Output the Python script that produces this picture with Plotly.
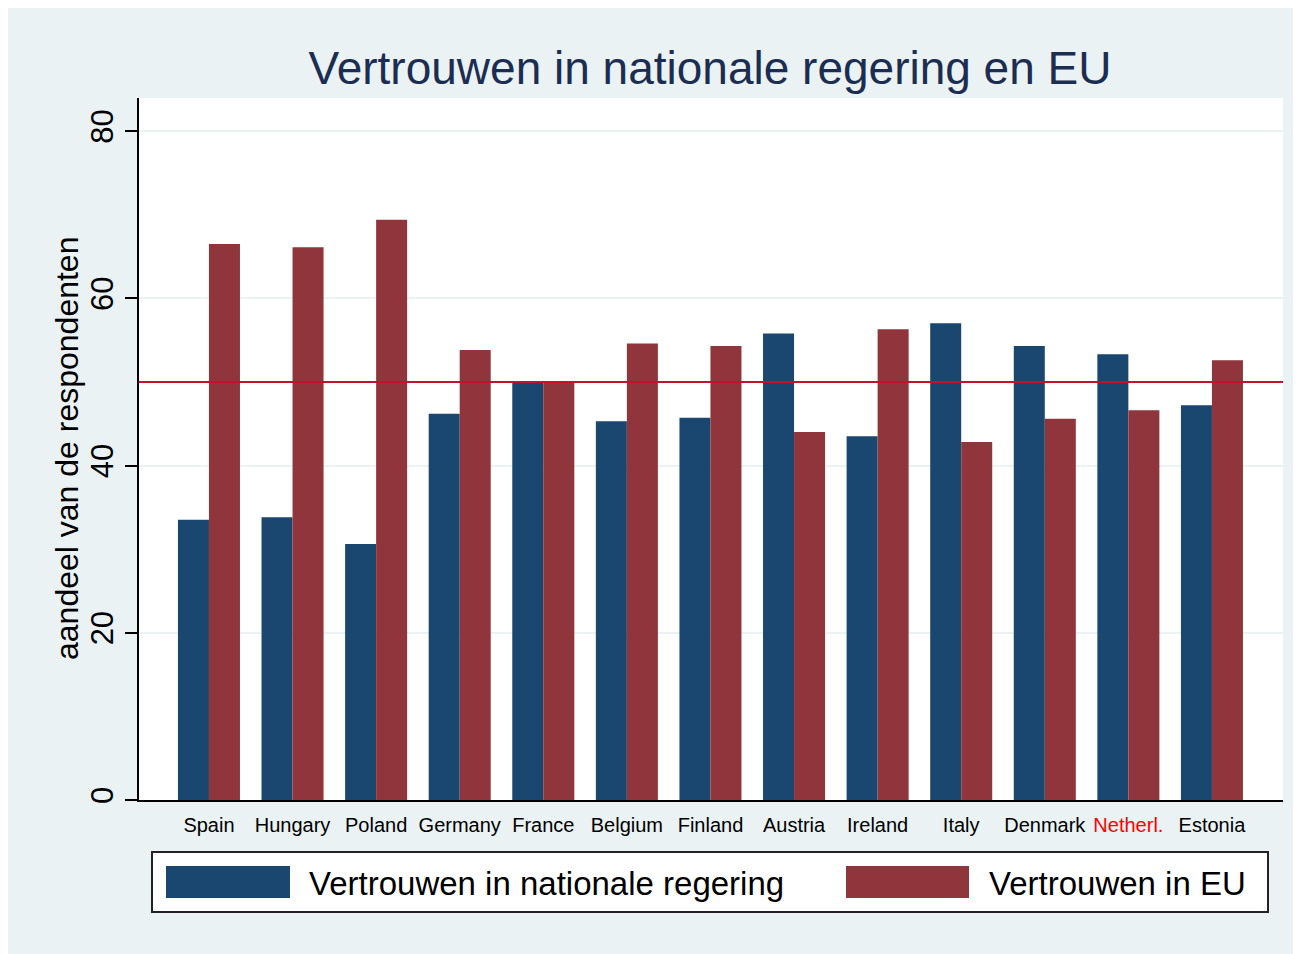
import plotly.graph_objects as go

countries = ["Spain", "Hungary", "Poland", "Germany", "France", "Belgium", "Finland",
             "Austria", "Ireland", "Italy", "Denmark", "Netherl.", "Estonia"]
nationaal = [33.5, 33.8, 30.6, 46.2, 50.0, 45.3, 45.7, 55.8, 43.5, 57.0, 54.3, 53.3, 47.2]
eu = [66.5, 66.1, 69.4, 53.8, 50.0, 54.6, 54.3, 44.0, 56.3, 42.8, 45.6, 46.6, 52.6]
y_ticks = [0, 20, 40, 60, 80]
reference_level = 50

NAVY = "#1A476F"
MAROON = "#90353B"
BG = "#EAF2F3"
FONT = "Arial, Liberation Sans, sans-serif"

xpos = list(range(len(countries)))
ticktext = [f"<span style='color:#FF0000'>{c}</span>" if c == "Netherl." else c for c in countries]

fig = go.Figure()
fig.add_trace(go.Bar(x=xpos, y=nationaal, name="Vertrouwen in nationale regering",
                     marker=dict(color=NAVY, line=dict(width=0))))
fig.add_trace(go.Bar(x=xpos, y=eu, name="Vertrouwen in EU",
                     marker=dict(color=MAROON, line=dict(width=0))))

fig.add_hline(y=reference_level, line=dict(color="#C8102E", width=2), layer="above")

W, H = 1293, 946
L, T = 131, 90
pw, ph = 1144, 702
R, B = W - L - pw, H - T - ph

def px(x):
    return (x - L) / pw

def py(y):
    return (T + ph - y) / ph

shapes = [
    dict(type="rect", xref="paper", yref="paper", x0=px(144), x1=px(1260), y0=py(904), y1=py(844),
         line=dict(color="#222222", width=2), fillcolor="white"),
    dict(type="rect", xref="paper", yref="paper", x0=px(158), x1=px(282), y0=py(890), y1=py(858),
         line=dict(width=0), fillcolor=NAVY),
    dict(type="rect", xref="paper", yref="paper", x0=px(838), x1=px(961), y0=py(890), y1=py(858),
         line=dict(width=0), fillcolor=MAROON),
]
annotations = [
    dict(text="Vertrouwen in nationale regering", xref="paper", yref="paper", x=px(299), y=py(875),
         xanchor="left", yanchor="middle", showarrow=False, font=dict(size=33, color="black", family=FONT)),
    dict(text="Vertrouwen in EU", xref="paper", yref="paper", x=px(979), y=py(875),
         xanchor="left", yanchor="middle", showarrow=False, font=dict(size=33, color="black", family=FONT)),
    dict(text="aandeel van de respondenten", xref="paper", yref="paper", x=px(59), y=0.5,
         textangle=-90, xanchor="center", yanchor="middle", showarrow=False,
         font=dict(size=32, color="black", family=FONT)),
]
for s in shapes:
    fig.add_shape(**s)

fig.update_layout(
    width=W, height=H,
    margin=dict(l=L, r=R, t=T, b=B, pad=0),
    paper_bgcolor=BG, plot_bgcolor="white",
    font=dict(family=FONT, color="black"),
    barmode="group", bargap=0.258, bargroupgap=0,
    showlegend=False,
    title=dict(text="Vertrouwen in nationale regering en EU", x=(710 - 8) / W, xanchor="center",
               y=1 - 60 / H, yanchor="middle",
               font=dict(size=46, color="#1C2D52", family=FONT)),
    annotations=annotations,
)
fig.update_xaxes(range=[-0.837, 12.85], tickvals=xpos, ticktext=ticktext,
                 tickfont=dict(size=20, color="black"), showline=True, linecolor="black", linewidth=2,
                 ticks="", showgrid=False, zeroline=False, ticklabelstandoff=6)
fig.update_yaxes(range=[0, 83.95], tickvals=y_ticks, tickangle=-90,
                 tickfont=dict(size=31, color="black"), showline=True, linecolor="black", linewidth=2,
                 ticks="outside", ticklen=12, tickcolor="black", tickwidth=2,
                 showgrid=True, gridcolor=BG, gridwidth=2, zeroline=False)

fig.write_html("out.html")
